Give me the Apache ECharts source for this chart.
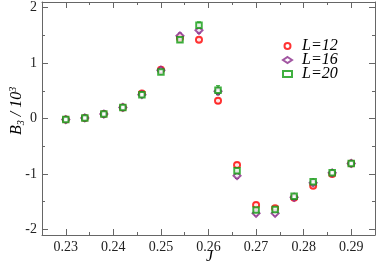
<!DOCTYPE html>
<html><head><meta charset="utf-8">
<script src="https://cdn.jsdelivr.net/npm/echarts@6/dist/echarts.min.js"></script>
<style>html,body{margin:0;padding:0;background:#fff}#c{width:377px;height:265px}</style>
</head><body><div id="c"></div>
<script>
var J = [0.230,0.234,0.238,0.242,0.246,0.250,0.254,0.258,0.262,0.266,0.270,0.274,0.278,0.282,0.286,0.290];
var L12 = [-0.02,0.01,0.08,0.20,0.45,0.88,1.45,1.42,0.32,-0.84,-1.56,-1.62,-1.43,-1.21,-1.00,-0.81];
var L16 = [-0.02,0.01,0.08,0.20,0.43,0.87,1.49,1.59,0.49,-1.03,-1.71,-1.71,-1.42,-1.16,-0.98,-0.81];
var L20 = [-0.02,0.01,0.08,0.20,0.43,0.84,1.42,1.68,0.51,-0.94,-1.65,-1.64,-1.40,-1.14,-0.98,-0.81];
var E12 = [0.01,0.01,0.01,0.01,0.02,0.02,0.03,0.03,0.04,0.04,0.04,0.03,0.02,0.02,0.02,0.02];
var E16 = [0.01,0.01,0.01,0.01,0.02,0.02,0.05,0.05,0.06,0.05,0.04,0.04,0.03,0.03,0.02,0.02];
var E20 = [0.01,0.01,0.01,0.01,0.02,0.03,0.04,0.06,0.08,0.06,0.04,0.04,0.03,0.03,0.02,0.02];
var xMajor = [0.23,0.24,0.25,0.26,0.27,0.28,0.29];
var xMinor = [0.225,0.235,0.245,0.255,0.265,0.275,0.285,0.295];
var yMajor = [-2,-1,0,1,2];
var yMinor = [-1.5,-0.5,0.5,1.5];
var names = ['L=12','L=16','L=20'];
var colors = ['#ff0000','#8a2a8a','#109c10'];

var serif = 'Liberation Serif';
var axisCol = '#666';
function xAx(pos, vals, len, showLabel, showLine){
  return {type:'value', position:pos, min:0.225, max:0.295, interval:0.005,
    axisLine:{show:showLine, onZero:false, lineStyle:{color:axisCol,width:1}},
    axisTick:{show:true, inside:true, length:len, customValues:vals, lineStyle:{color:axisCol}},
    axisLabel:{show:showLabel, customValues:xMajor, fontFamily:serif, fontSize:14, color:'#222', margin:5,
      formatter:function(v){return v.toFixed(2);}},
    splitLine:{show:false}};
}
function yAx(pos, vals, len, showLabel, showLine){
  return {type:'value', position:pos, min:-2.1, max:2.1, interval:0.5,
    axisLine:{show:showLine, onZero:false, lineStyle:{color:axisCol,width:1}},
    axisTick:{show:true, inside:true, length:len, customValues:vals, lineStyle:{color:axisCol}},
    axisLabel:{show:showLabel, customValues:yMajor, fontFamily:serif, fontSize:14, color:'#222', margin:5,
      formatter:function(v){return String(Math.round(v));}},
    splitLine:{show:false}};
}
function errSeries(vals, errs, col){
  var d = J.map(function(x,i){return [x, vals[i]-errs[i], vals[i]+errs[i]];});
  return {type:'custom', silent:true, z:1, data:d,
    renderItem:function(params, api){
      var p1 = api.coord([api.value(0), api.value(1)]);
      var p2 = api.coord([api.value(0), api.value(2)]);
      return {type:'group', children:[
        {type:'line', shape:{x1:p1[0],y1:p1[1],x2:p2[0],y2:p2[1]}, style:{stroke:col,lineWidth:1}},
        {type:'line', shape:{x1:p1[0]-2,y1:p1[1],x2:p1[0]+2,y2:p1[1]}, style:{stroke:col,lineWidth:1}},
        {type:'line', shape:{x1:p2[0]-2,y1:p2[1],x2:p2[0]+2,y2:p2[1]}, style:{stroke:col,lineWidth:1}}
      ]};
    }};
}
function pts(vals){ return J.map(function(x,i){return [x, vals[i]];}); }

var chart = echarts.init(document.getElementById('c'), null, {renderer:'canvas'});
chart.setOption({
  animation:false,
  textStyle:{fontFamily:serif},
  grid:{left:42, right:2, top:2, bottom:30},
  xAxis:[xAx('bottom', xMajor, 6, true, true), xAx('bottom', xMinor, 3, false, false),
         xAx('top', xMajor, 6, false, true), xAx('top', xMinor, 3, false, false)],
  yAxis:[yAx('left', yMajor, 6, true, true), yAx('left', yMinor, 3, false, false),
         yAx('right', yMajor, 6, false, true), yAx('right', yMinor, 3, false, false)],
  legend:{orient:'vertical', left:277, top:33, itemGap:-2, itemWidth:9, itemHeight:6,
    data:names, textStyle:{fontFamily:serif, fontStyle:'italic', fontSize:16, color:'#000', padding:[0,0,0,5]}},
  graphic:[
    {type:'text', left:206, top:249, style:{text:'J', fontFamily:serif, fontStyle:'italic', fontSize:16, fill:'#000'}},
    {type:'text', x:8, y:135, rotation:Math.PI/2,
      style:{text:'{b|B}{s|3}{n| / 10}{p|3}', fill:'#000',
        rich:{b:{fontFamily:serif,fontStyle:'italic',fontSize:16},
              s:{fontFamily:serif,fontStyle:'italic',fontSize:10,padding:[8,0,0,0]},
              n:{fontFamily:serif,fontStyle:'italic',fontSize:16},
              p:{fontFamily:serif,fontStyle:'italic',fontSize:10,padding:[0,0,8,0]}}}}
  ],
  series:[
    errSeries(L12,E12,colors[0]), errSeries(L16,E16,colors[1]), errSeries(L20,E20,colors[2]),
    {name:names[0], type:'scatter', data:pts(L12), symbol:'emptyCircle', symbolSize:6, z:3,
      itemStyle:{color:colors[0], borderColor:colors[0], borderWidth:1}},
    {name:names[1], type:'scatter', data:pts(L16), symbol:'emptyDiamond', symbolSize:7, z:4,
      itemStyle:{color:colors[1], borderColor:colors[1], borderWidth:1}},
    {name:names[2], type:'scatter', data:pts(L20), symbol:'emptyRect', symbolSize:5.5, z:5,
      itemStyle:{color:colors[2], borderColor:colors[2], borderWidth:1}}
  ]
});
</script></body></html>
